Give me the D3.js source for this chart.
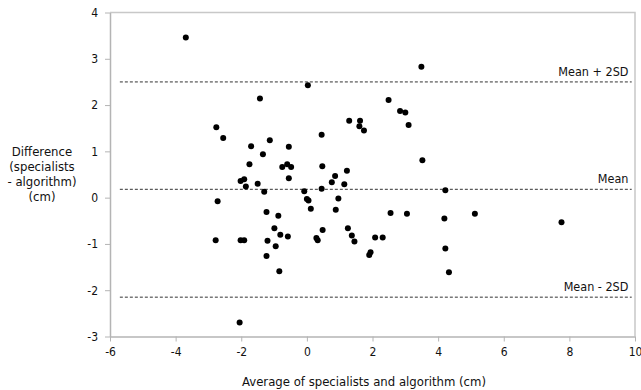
<!DOCTYPE html>
<html>
<head>
<meta charset="utf-8">
<script src="https://cdn.jsdelivr.net/npm/d3@7"></script>
<style>
  body { margin: 0; background: #fff; }
  svg text { font-family: Tahoma, "DejaVu Sans Condensed", "DejaVu Sans", sans-serif; fill: #111; }
</style>
</head>
<body>
<div id="chart"></div>
<script>
// average of specialists and algorithm (cm)
const avgVals = [
  -3.69, 0.03, -1.43, -2.76, -2.55, -1.70, -1.13, -1.34, -0.55, -1.75,
  -0.75, -0.60, -0.48, -0.55, -1.91, -2.02, -1.86, -1.50, -1.30, -2.72,
  -1.23, -0.87, -0.99, -0.81, -0.58, -2.78, -2.02, -1.91, -1.20, -0.95,
  -1.23, -0.84, -2.05, -0.08, 0.00, 0.05, 0.12, 0.29, 0.33, 0.45,
  0.47, 0.45, 0.76, 0.86, 1.22, 1.14, 0.96, 0.88, 0.48, 1.25,
  1.37, 1.45, 2.08, 2.31, 1.90, 1.94, 2.55, 3.05, 2.49, 2.84,
  3.00, 3.10, 1.29, 1.62, 1.60, 1.74, 3.49, 3.52, 4.22, 4.19,
  5.12, 4.22, 4.33, 7.76
]
// difference (specialists - algorithm) (cm)
const diffVals = [
  3.46, 2.43, 2.14, 1.52, 1.29, 1.11, 1.24, 0.94, 1.10, 0.72,
  0.66, 0.72, 0.66, 0.42, 0.40, 0.36, 0.24, 0.30, 0.13, -0.08,
  -0.31, -0.39, -0.66, -0.80, -0.84, -0.92, -0.92, -0.92, -0.93, -1.05,
  -1.26, -1.59, -2.70, 0.14, -0.03, -0.06, -0.24, -0.87, -0.92, 1.36,
  0.68, 0.19, 0.33, 0.47, 0.58, 0.29, -0.02, -0.26, -0.70, -0.66,
  -0.82, -0.95, -0.86, -0.86, -1.24, -1.18, -0.33, -0.35, 2.11, 1.87,
  1.84, 1.57, 1.66, 1.66, 1.54, 1.45, 2.83, 0.81, 0.16, -0.45,
  -0.35, -1.10, -1.61, -0.53
]
const refNames = ['Mean + 2SD', 'Mean', 'Mean - 2SD']
const refVals = [2.50, 0.18, -2.15]
const xTicks = [-6, -4, -2, 0, 2, 4, 6, 8, 10]
const yTicks = [-3, -2, -1, 0, 1, 2, 3, 4]

const W = 641, H = 390
const m = { left: 110, right: 6, top: 12.5, bottom: 53.5 }

const svg = d3.select('#chart').append('svg')
  .attr('width', W)
  .attr('height', H)

const x = d3.scaleLinear().domain([-6, 10]).range([m.left, W - m.right])
const y = d3.scaleLinear().domain([-3, 4]).range([H - m.bottom, m.top])

// frame top + right
svg.append('path')
  .attr('d', `M${x(-6)},${y(4)}H${x(10)}V${y(-3)}`)
  .attr('fill', 'none')
  .attr('stroke', '#c8c8c8')
  .attr('stroke-width', 1.5)

// axes - plain hyphen for negatives, like the original
const fmt = d => String(d)
const xAxis = svg.append('g')
  .attr('transform', `translate(0,${y(-3)})`)
  .call(d3.axisBottom(x).tickValues(xTicks).tickFormat(fmt).tickSize(5).tickPadding(6).tickSizeOuter(0))
const yAxis = svg.append('g')
  .attr('transform', `translate(${x(-6)},0)`)
  .call(d3.axisLeft(y).tickValues(yTicks).tickFormat(fmt).tickSize(5).tickPadding(7).tickSizeOuter(0))

;[xAxis, yAxis].forEach(g => {
  g.select('.domain').attr('stroke', '#b4b4b4').attr('stroke-width', 1.5)
  g.selectAll('.tick line').attr('stroke', '#b4b4b4')
  g.selectAll('.tick text').style('font-size', '12px').attr('fill', '#111')
})

// reference lines (mean, +-2SD)
const refG = svg.append('g')
refG.selectAll('line').data(refVals).join('line')
  .attr('x1', x(-5.7))
  .attr('x2', x(9.9))
  .attr('y1', d => y(d))
  .attr('y2', d => y(d))
  .attr('stroke', '#333')
  .attr('stroke-width', 1)
  .attr('stroke-dasharray', '3,2')

refG.selectAll('text').data(refVals).join('text')
  .attr('x', x(9.8))
  .attr('y', d => y(d) - 6)
  .attr('text-anchor', 'end')
  .style('font-size', '12.5px')
  .text((d, i) => refNames[i])

// points
svg.append('g').selectAll('circle')
  .data(avgVals.map((v, i) => [v, diffVals[i]]))
  .join('circle')
  .attr('cx', d => x(d[0]))
  .attr('cy', d => y(d[1]))
  .attr('r', 3)
  .attr('fill', '#000')

// x title
svg.append('text')
  .attr('x', 364)
  .attr('y', 386)
  .attr('text-anchor', 'middle')
  .style('font-size', '13px')
  .text('Average of specialists and algorithm (cm)')

// y title
const yTitle = ['Difference', '(specialists', '- algorithm)', '(cm)']
svg.append('text')
  .attr('text-anchor', 'middle')
  .style('font-size', '13px')
  .selectAll('tspan').data(yTitle).join('tspan')
  .attr('x', 42)
  .attr('y', (d, i) => 156 + i * 15)
  .text(d => d)
</script>
</body>
</html>
